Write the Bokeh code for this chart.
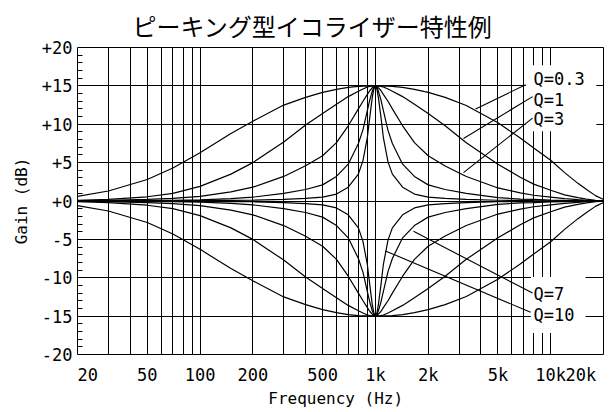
from bokeh.plotting import figure
from bokeh.models import FixedTicker, Label, Title
from bokeh.embed import file_html
from bokeh.resources import INLINE

# ---------------- data ----------------
title_text = "ピーキング型イコライザー特性例"
x_title = "Frequency (Hz)"
y_title = "Gain (dB)"

# frequency points below and above the 1 kHz centre
freq_lo = [20, 30, 50, 70, 100, 150, 200, 300, 400, 500, 600, 700, 800, 850, 900, 930, 960, 980, 1000]
freq_hi = [1020, 1040, 1075, 1110, 1180, 1250, 1430, 1670, 2000, 2500, 3300, 5000, 6700, 8000,
           10000, 12000, 14300, 16000, 18000, 20000]

# boost curves (+15 dB)
boost_q03_lo = [0.6, 1.3, 2.8, 4.3, 6.3, 8.8, 10.4, 12.5, 13.5, 14.15, 14.55, 14.8, 14.93, 14.96, 14.98, 15.0, 15.0, 15.0, 15.0]
boost_q03_hi = [15.0, 15.0, 15.0, 14.98, 14.96, 14.93, 14.8, 14.55, 14.15, 13.5, 12.45, 10.2, 8.2, 6.9, 5.3, 3.7, 2.3, 1.5, 0.7, 0.2]
boost_q1_lo = [0.1, 0.2, 0.55, 1.0, 1.9, 3.5, 5.0, 7.7, 9.9, 11.4, 12.6, 13.6, 14.3, 14.6, 14.85, 14.93, 14.98, 15.0, 15.0]
boost_q1_hi = [15.0, 14.98, 14.93, 14.85, 14.6, 14.3, 13.6, 12.6, 11.4, 9.8, 7.6, 4.8, 3.1, 2.2, 1.4, 0.8, 0.45, 0.25, 0.1, 0.03]
boost_q3_lo = [0.05, 0.1, 0.2, 0.35, 0.6, 1.2, 1.8, 3.2, 4.6, 5.9, 7.6, 9.8, 12.0, 13.0, 13.9, 14.4, 14.75, 14.92, 15.0]
boost_q3_hi = [14.92, 14.75, 14.4, 13.9, 13.0, 12.0, 9.8, 7.6, 5.9, 4.55, 3.2, 1.7, 1.05, 0.75, 0.5, 0.3, 0.17, 0.1, 0.05, 0.02]
boost_q7_lo = [0.0, 0.02, 0.05, 0.1, 0.15, 0.3, 0.5, 1.0, 1.5, 2.1, 3.2, 4.8, 7.5, 9.3, 11.8, 13.2, 14.3, 14.8, 15.0]
boost_q7_hi = [14.8, 14.3, 13.2, 11.8, 9.2, 7.5, 4.8, 3.2, 2.1, 1.5, 1.0, 0.45, 0.25, 0.2, 0.12, 0.08, 0.05, 0.02, 0.0, 0.0]
boost_q10_lo = [0.0, 0.0, 0.02, 0.03, 0.05, 0.08, 0.1, 0.2, 0.35, 0.5, 0.9, 1.8, 3.5, 5.3, 8.3, 11.0, 13.5, 14.6, 15.0]
boost_q10_hi = [14.6, 13.5, 11.0, 8.3, 5.1, 3.5, 1.8, 0.9, 0.5, 0.35, 0.2, 0.1, 0.07, 0.05, 0.03, 0.02, 0.0, 0.0, 0.0, 0.0]

# cut curves (-15 dB)
cut_q03_lo = [-0.6, -1.3, -2.8, -4.3, -6.3, -8.8, -10.4, -12.5, -13.5, -14.15, -14.55, -14.8, -14.93, -14.96, -14.98, -15.0, -15.0, -15.0, -15.0]
cut_q03_hi = [-15.0, -15.0, -15.0, -14.98, -14.96, -14.93, -14.8, -14.55, -14.15, -13.5, -12.45, -10.2, -8.2, -6.9, -5.3, -3.7, -2.3, -1.5, -0.7, -0.2]
cut_q1_lo = [-0.1, -0.2, -0.55, -1.0, -1.9, -3.5, -5.0, -7.7, -9.9, -11.4, -12.6, -13.6, -14.3, -14.6, -14.85, -14.93, -14.98, -15.0, -15.0]
cut_q1_hi = [-15.0, -14.98, -14.93, -14.85, -14.6, -14.3, -13.6, -12.6, -11.4, -9.8, -7.6, -4.8, -3.1, -2.2, -1.4, -0.8, -0.45, -0.25, -0.1, -0.03]
cut_q3_lo = [-0.05, -0.1, -0.2, -0.35, -0.6, -1.2, -1.8, -3.2, -4.6, -5.9, -7.6, -9.8, -12.0, -13.0, -13.9, -14.4, -14.75, -14.92, -15.0]
cut_q3_hi = [-14.92, -14.75, -14.4, -13.9, -13.0, -12.0, -9.8, -7.6, -5.9, -4.55, -3.2, -1.7, -1.05, -0.75, -0.5, -0.3, -0.17, -0.1, -0.05, -0.02]
cut_q7_lo = [0.0, -0.02, -0.05, -0.1, -0.15, -0.3, -0.5, -1.0, -1.5, -2.1, -3.2, -4.8, -7.5, -9.3, -11.8, -13.2, -14.3, -14.8, -15.0]
cut_q7_hi = [-14.8, -14.3, -13.2, -11.8, -9.2, -7.5, -4.8, -3.2, -2.1, -1.5, -1.0, -0.45, -0.25, -0.2, -0.12, -0.08, -0.05, -0.02, 0.0, 0.0]
cut_q10_lo = [0.0, 0.0, -0.02, -0.03, -0.05, -0.08, -0.1, -0.2, -0.35, -0.5, -0.9, -1.8, -3.5, -5.3, -8.3, -11.0, -13.5, -14.6, -15.0]
cut_q10_hi = [-14.6, -13.5, -11.0, -8.3, -5.1, -3.5, -1.8, -0.9, -0.5, -0.35, -0.2, -0.1, -0.07, -0.05, -0.03, -0.02, 0.0, 0.0, 0.0, 0.0]

# curve annotations: label text, label position, leader end on curve
q_labels = ["Q=0.3", "Q=1", "Q=3", "Q=7", "Q=10"]
q_label_freq = [7980, 7980, 7980, 7980, 7980]
q_label_gain = [15.95, 13.2, 10.65, -12.15, -14.9]
leader_start_freq = [7190, 7880, 7880, 7880, 7680]
leader_start_gain = [15.15, 13.6, 10.8, -12.0, -14.5]
leader_end_freq = [3730, 3180, 3180, 1650, 1140]
leader_end_gain = [12.0, 8.15, 3.7, -3.95, -6.5]

# axes ticks
y_ticks = [-20, -15, -10, -5, 0, 5, 10, 15, 20]
y_tick_labels = ["-20", "-15", "-10", "-5", "+0", "+5", "+10", "+15", "+20"]
y_minor = [v for v in range(-19, 20) if v % 5 != 0]
x_ticks = [20, 50, 100, 200, 500, 1000, 2000, 5000, 10000, 20000]
NB = "\u00a0"
x_tick_labels = [NB + NB + "20", "50", "100", "200", "500", "1k", "2k", "5k", "10k", "20k" + NB]
x_grid = [30, 40, 50, 60, 70, 80, 90, 100, 200, 300, 400, 500, 600, 700, 800, 900,
          1000, 2000, 3000, 4000, 5000, 6000, 7000, 8000, 9000, 10000]
y_grid = [-15, -10, -5, 0, 5, 10, 15]

MONO = "DejaVu Sans Mono"
CJK = "Noto Sans CJK JP"

# ---------------- figure ----------------
p = figure(width=606, height=410, x_axis_type="log", x_range=(20, 20000), y_range=(-20, 20),
           output_backend="svg", toolbar_location=None,
           min_border_left=77, min_border_right=3, min_border_top=45, min_border_bottom=51)
p.title = Title(text=title_text, align="left", offset=55, standoff=10,
                text_font=CJK, text_font_size="24px", text_font_style="normal",
                text_color="black")
p.background_fill_color = "white"
p.border_fill_color = "white"
p.outline_line_color = "black"
p.outline_line_width = 1
p.outline_line_alpha = 1

# y axis
yax = p.yaxis[0]
yax.ticker = FixedTicker(ticks=y_ticks, minor_ticks=y_minor)
yax.major_label_overrides = {t: l for t, l in zip(y_ticks, y_tick_labels)}
yax.axis_line_color = None
yax.major_tick_in = 0
yax.major_tick_out = 0
yax.minor_tick_in = 5
yax.minor_tick_out = 0
yax.minor_tick_line_color = "black"
yax.major_label_standoff = 5
yax.major_label_text_font = MONO
yax.major_label_text_font_size = "17px"
yax.major_label_text_color = "black"
yax.axis_label = y_title
yax.axis_label_standoff = 8
yax.axis_label_text_font = MONO
yax.axis_label_text_font_size = "16px"
yax.axis_label_text_font_style = "normal"
yax.axis_label_text_color = "black"

# x axis
xax = p.xaxis[0]
xax.ticker = FixedTicker(ticks=x_ticks, minor_ticks=[])
xax.major_label_overrides = {t: l for t, l in zip(x_ticks, x_tick_labels)}
xax.axis_line_color = None
xax.major_tick_in = 0
xax.major_tick_out = 0
xax.minor_tick_in = 0
xax.minor_tick_out = 0
xax.major_label_standoff = 10
xax.major_label_text_font = MONO
xax.major_label_text_font_size = "17px"
xax.major_label_text_color = "black"
xax.axis_label = x_title + NB
xax.axis_label_standoff = 1
xax.axis_label_text_font = MONO
xax.axis_label_text_font_size = "16px"
xax.axis_label_text_font_style = "normal"
xax.axis_label_text_color = "black"

# grids
p.xgrid[0].ticker = FixedTicker(ticks=x_grid)
p.ygrid[0].ticker = FixedTicker(ticks=y_grid)
for g in (p.xgrid[0], p.ygrid[0]):
    g.grid_line_color = "black"
    g.grid_line_alpha = 1
    g.grid_line_width = 1

# white boxes behind the curve labels
p.quad(left=[7200, 7700], right=[18200, 15800], bottom=[9.1, -17.2], top=[17.7, -9.9],
       fill_color="white", line_color=None)

# curves
freq_all = freq_lo + freq_hi
curves = [
    boost_q03_lo + boost_q03_hi, boost_q1_lo + boost_q1_hi, boost_q3_lo + boost_q3_hi,
    boost_q7_lo + boost_q7_hi, boost_q10_lo + boost_q10_hi,
    cut_q03_lo + cut_q03_hi, cut_q1_lo + cut_q1_hi, cut_q3_lo + cut_q3_hi,
    cut_q7_lo + cut_q7_hi, cut_q10_lo + cut_q10_hi,
]
for g in curves:
    p.line(freq_all, g, line_color="black", line_width=1.2)

# leaders
p.segment(x0=leader_start_freq, y0=leader_start_gain, x1=leader_end_freq, y1=leader_end_gain,
          line_color="black", line_width=1.1)

for t, fx, gy in zip(q_labels, q_label_freq, q_label_gain):
    p.add_layout(Label(x=fx, y=gy, text=t, text_font=MONO, text_font_size="17px",
                       text_color="black", text_align="left", text_baseline="middle"))

open("out.html", "w").write(file_html(p, INLINE))
